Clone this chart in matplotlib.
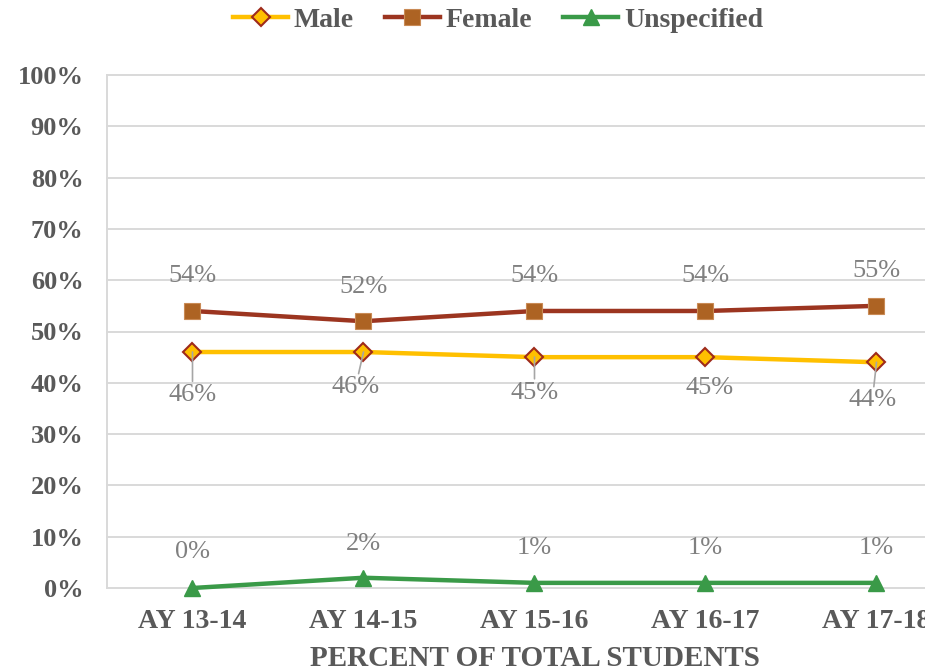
import matplotlib
matplotlib.use("Agg")
import matplotlib.pyplot as plt
from matplotlib.patches import Rectangle

categories = ["AY 13-14", "AY 14-15", "AY 15-16", "AY 16-17", "AY 17-18"]
male = [46, 46, 45, 45, 44]
female = [54, 52, 54, 54, 55]
unspecified = [0, 2, 1, 1, 1]
y_ticks = [0, 10, 20, 30, 40, 50, 60, 70, 80, 90, 100]
x_title = "PERCENT OF TOTAL STUDENTS"

FONT = "Liberation Serif"
TICK_C = "#595959"
LAB_C = "#808080"
GRID_C = "#D9D9D9"

W, H = 937, 672
fig = plt.figure(figsize=(W / 100, H / 100), dpi=100)
ax = fig.add_axes([107 / W, 84 / H, 855 / W, 513 / H])
ax.set_xlim(-0.5, len(categories) - 0.5)
ax.set_ylim(0, 100)

grid_end = (925 - 107) / 855
for yv in y_ticks:
    ax.axhline(yv, xmin=0, xmax=grid_end, color=GRID_C, lw=1.4, zorder=0, clip_on=False)
for s in ["top", "right", "bottom"]:
    ax.spines[s].set_visible(False)
ax.spines["left"].set_color(GRID_C)
ax.spines["left"].set_linewidth(1.4)

x = list(range(len(categories)))
l_m, = ax.plot(x, male, color="#FFC000", lw=3.2, marker="D", ms=9.5,
               mfc="#FFC000", mec="#9E2A1B", mew=1.5, zorder=3, label="Male",
               clip_on=False)
l_f, = ax.plot(x, female, color="#9C3520", lw=3.2, marker="s", ms=12,
               mfc="#AD6323", mec="#C98A55", mew=0.8, zorder=3, label="Female",
               clip_on=False)
l_u, = ax.plot(x, unspecified, color="#3A9A48", lw=3.2, marker="^", ms=12,
               mfc="#3A9A48", mec="#3A9A48", zorder=3, label="Unspecified",
               clip_on=False)

ax.set_yticks(y_ticks)
ax.set_yticklabels([f"{v}%" for v in y_ticks], fontfamily=FONT, fontweight="bold",
                   fontsize=19, color=TICK_C)
ax.set_xticks(x)
ax.set_xticklabels(categories, fontfamily=FONT, fontweight="bold", fontsize=20,
                   color=TICK_C)
ax.tick_params(axis="y", length=0, pad=17)
ax.tick_params(axis="x", length=0, pad=15)

lab_kw = dict(textcoords="offset points", ha="center", va="center",
              fontfamily=FONT, fontsize=19, color=LAB_C, zorder=5)

f_off = [25, 24.5, 25, 25, 25]
for i, v in enumerate(female):
    ax.annotate(f"{v}%", (i, v), xytext=(0, f_off[i]), **lab_kw)

u_off = [26, 24, 25, 25, 25]
for i, v in enumerate(unspecified):
    ax.annotate(f"{v}%", (i, v), xytext=(0, u_off[i]), **lab_kw)

m_off = [(0, -31), (-5.8, -25.5), (0, -25.5), (3, -22), (-3, -27.5)]
m_leader = [True, True, True, False, True]
for i, v in enumerate(male):
    kw = dict(lab_kw)
    if m_leader[i]:
        kw["arrowprops"] = dict(arrowstyle="-", color="#A6A6A6", lw=1.2,
                                shrinkA=0, shrinkB=0)
    ax.annotate(f"{v}%", (i, v), xytext=m_off[i], **kw)

fig.text(534.5 / W, 0.5 / H, x_title, ha="center", va="bottom",
         fontfamily=FONT, fontweight="bold", fontsize=21, color=TICK_C)

leg = fig.legend(handles=[l_m, l_f, l_u], loc="center", ncol=3,
                 bbox_to_anchor=(498 / W, 1 - 20 / H), frameon=False,
                 prop=dict(family=FONT, weight="bold", size=20),
                 handlelength=2.0, handletextpad=0.2, columnspacing=1.1,
                 borderpad=0, borderaxespad=0)
for t in leg.get_texts():
    t.set_color(TICK_C)

# the chart area ends at x=925; mask what lies beyond it (clips the last tick label)
fig.patches.append(Rectangle((925 / W, 0.05), 1 - 925 / W, 0.9, transform=fig.transFigure,
                             facecolor="white", edgecolor="none", zorder=10))

fig.savefig("out.png", dpi=100)
